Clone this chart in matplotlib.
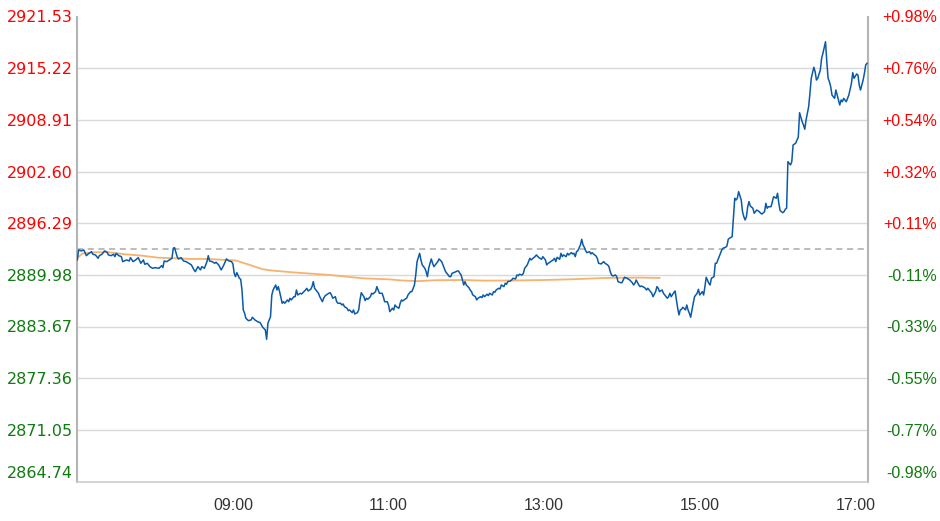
#!/usr/bin/env python3
# -*- coding: utf-8 -*-

"""
Intraday index chart: price line, average line, previous close and
price / percent axes.
"""

import matplotlib

matplotlib.use("Agg")

import matplotlib.pyplot as plt


PREV_CLOSE = 2893.135

LEFT_TICKS = [2864.74, 2871.05, 2877.36, 2883.67, 2889.98,
              2896.29, 2902.60, 2908.91, 2915.22, 2921.53]
RIGHT_LABELS = ["-0.98%", "-0.77%", "-0.55%", "-0.33%", "-0.11%",
                "+0.11%", "+0.32%", "+0.54%", "+0.76%", "+0.98%"]

# minutes since 07:00
X_RANGE = (0, 610)
X_TICKS = [120, 240, 360, 480, 600]
X_LABELS = ["09:00", "11:00", "13:00", "15:00", "17:00"]

minutes = [
    0, 1, 3, 5, 7, 9, 11, 12, 14, 16, 17, 19, 21, 23, 24, 26, 28, 29, 30, 32,
    34, 35, 38, 40, 41, 43, 45, 47, 49, 51, 52, 54, 56, 58, 60, 63, 65, 66, 67, 69,
    71, 73, 74, 75, 77, 78, 80, 82, 84, 86, 88, 90, 91, 93, 95, 96, 98, 100, 101, 102,
    104, 106, 107, 109, 111, 113, 115, 117, 119,
    120, 121, 122, 123, 125, 126, 127, 128, 129, 130, 132, 134, 135, 137, 139, 141,
    142, 143, 145, 146, 147, 149, 150, 151, 153, 154, 155, 156, 158, 159, 160, 162,
    163, 164, 165, 167, 168, 169, 170, 172, 173, 174, 176, 177, 178, 180, 181, 182,
    183, 185, 186, 187, 189, 190, 191, 192, 194, 195, 196, 197, 199, 200, 201, 203,
    204, 205, 206, 208, 209, 210, 212, 213, 214, 216, 217, 218, 219, 221, 222, 223,
    224, 226, 227, 228, 230, 231, 232, 233, 235, 236, 237, 239, 240, 241,
    243, 244, 245, 246, 248, 249, 250, 251, 253, 254, 255, 257, 258, 259, 260, 261,
    262, 264, 265, 266, 268, 269, 270, 271, 272, 273, 274, 275, 277, 278, 279, 281,
    282, 283, 284, 286, 287, 288, 289, 291, 293, 294, 295, 296, 298, 299, 300, 302,
    303, 304, 305, 307, 308, 309, 311, 312, 313, 314, 316, 317, 318, 320, 321, 322,
    323, 325, 326, 327, 329, 330, 331, 332, 334, 335, 336, 338, 339, 340, 341, 343,
    344, 345, 347, 348, 349, 350, 352, 353, 354, 356,
    357, 358, 359, 361, 362, 363, 364, 365, 367, 368, 369, 370, 372, 373, 374, 375,
    377, 378, 379, 381, 382, 383, 384, 385, 386, 388, 389, 390, 391, 392, 393, 395,
    396, 397, 398, 400, 401, 402, 404, 405, 406, 407, 409, 410, 411, 412, 413, 415,
    416, 417, 419, 420, 421, 422, 424, 425, 426, 428, 429, 430, 431, 433, 434, 435,
    437, 438, 439, 440, 442, 443, 444, 446, 447, 448, 449, 451, 452, 453, 455, 456,
    457, 458, 460, 461, 462, 463, 464, 465, 466, 467, 469, 470, 471, 472, 473, 474,
    475, 476, 478, 479, 480,
    482, 483, 484, 485, 487, 488, 489, 491, 492, 493, 494, 496, 497, 498, 500, 501,
    502, 503, 505, 506, 507, 508, 509, 510, 512, 513, 514, 515, 516, 517, 518, 519,
    521, 522, 523, 524, 526, 527, 528, 530, 531, 532, 533, 535, 536, 537, 539, 540,
    541, 542, 544, 545, 546, 547, 548, 550, 551, 552, 554, 555, 556, 557, 559, 560,
    561, 562, 564, 565, 566, 568, 569, 570, 571, 573, 574, 575, 577, 578, 579, 580,
    581, 582, 584, 585, 586, 588, 589, 590, 591, 593, 594, 595, 597, 598, 599, 601,
    602, 603, 604, 606, 607, 608, 609,
]

prices = [
    2891.80, 2893.02, 2892.90, 2893.02, 2892.32, 2892.61, 2892.81, 2892.49, 2892.41, 2892.00,
    2892.32, 2892.49, 2892.90, 2892.74, 2892.41, 2892.32, 2892.49, 2892.20, 2892.61, 2892.32,
    2892.20, 2891.59, 2891.80, 2891.67, 2892.08, 2891.59, 2891.80, 2892.08, 2891.39, 2891.80,
    2891.27, 2891.39, 2890.98, 2890.78, 2890.86, 2890.78, 2891.10, 2890.86, 2891.67, 2891.59,
    2891.80, 2892.00, 2893.23, 2893.30, 2892.20, 2891.92, 2892.08, 2891.67, 2891.59, 2891.39,
    2891.19, 2890.58, 2890.37, 2890.98, 2890.58, 2890.98, 2890.78, 2891.59, 2892.32, 2891.67,
    2891.59, 2891.39, 2891.52, 2891.19, 2890.58, 2891.19, 2891.92, 2891.67, 2891.59,
    2891.31, 2890.17, 2889.76, 2890.25, 2889.56, 2889.44, 2888.13, 2885.69, 2885.29, 2884.68,
    2884.38, 2884.47, 2884.80, 2884.47, 2884.26, 2884.14, 2883.86, 2883.58, 2883.25, 2882.11,
    2884.07, 2884.87, 2887.52, 2888.13, 2888.74, 2888.13, 2888.54, 2887.93, 2886.51, 2886.70,
    2886.51, 2886.91, 2886.70, 2887.12, 2886.91, 2887.31, 2887.31, 2888.13, 2887.52, 2887.73,
    2887.64, 2887.80, 2888.13, 2888.34, 2888.01, 2888.21, 2888.54, 2889.15, 2888.34, 2887.93,
    2887.73, 2887.31, 2886.70, 2887.12, 2887.40, 2887.52, 2887.73, 2887.80, 2887.52, 2887.12,
    2887.31, 2886.70, 2886.51, 2886.51, 2886.30, 2886.42, 2886.09, 2885.90, 2885.60, 2885.69,
    2885.36, 2885.69, 2885.20, 2885.36, 2885.69, 2886.91, 2887.80, 2887.31, 2886.83, 2887.12,
    2886.99, 2887.31, 2887.73, 2887.64, 2887.93, 2888.54, 2888.13, 2887.73, 2887.73, 2887.31,
    2886.70, 2886.70, 2886.30, 2885.48,
    2885.90, 2885.69, 2886.30, 2886.09, 2885.90, 2886.51, 2886.91, 2886.79, 2887.03, 2887.12,
    2887.52, 2887.93, 2887.93, 2888.34, 2888.74, 2889.96, 2891.59, 2892.61, 2891.80, 2891.19,
    2890.78, 2890.37, 2889.76, 2890.78, 2891.39, 2891.92, 2891.39, 2890.98, 2891.39, 2891.59,
    2891.92, 2891.59, 2891.19, 2890.78, 2890.37, 2889.96, 2889.76, 2889.76, 2890.17, 2890.29,
    2890.45, 2890.45, 2890.17, 2889.96, 2888.74, 2889.15, 2888.74, 2888.41, 2888.13, 2887.93,
    2887.52, 2887.31, 2886.91, 2887.12, 2887.31, 2887.19, 2887.52, 2887.31, 2887.61, 2887.44,
    2887.73, 2887.52, 2887.93, 2887.85, 2888.13, 2888.34, 2888.26, 2888.74, 2888.54, 2888.95,
    2888.83, 2889.15, 2889.23, 2889.35, 2889.56, 2889.48, 2889.96, 2889.88, 2890.05, 2889.96,
    2890.17, 2890.78, 2891.19, 2891.59, 2892.00, 2891.80, 2892.08, 2892.20, 2892.41, 2892.08,
    2891.98, 2891.88, 2892.20, 2891.80, 2891.19, 2891.39, 2891.47, 2891.59, 2891.80, 2892.00,
    2891.59, 2892.12, 2891.88, 2892.61, 2892.20, 2892.41, 2892.20, 2892.61, 2892.41, 2892.69,
    2892.53, 2892.61, 2892.20, 2892.81, 2892.93, 2893.63, 2894.32, 2893.63, 2893.35, 2892.93,
    2892.69, 2892.81, 2892.53, 2892.69, 2892.53, 2892.29, 2892.00, 2891.39, 2891.31, 2891.47,
    2891.59, 2891.39, 2891.19, 2890.98, 2890.37, 2889.96, 2889.84, 2889.96, 2889.76, 2889.15,
    2889.02, 2889.02, 2889.35, 2889.68, 2889.56, 2889.44, 2889.35, 2889.02, 2888.74, 2888.95,
    2889.35, 2888.74, 2888.54, 2888.62, 2888.46, 2888.34, 2888.13, 2888.34, 2887.93, 2887.73,
    2887.31, 2887.93, 2888.54, 2888.34, 2887.93, 2888.13, 2887.73, 2887.52, 2887.12, 2887.31,
    2887.73, 2887.31, 2887.80, 2888.01, 2886.91, 2885.90, 2885.08, 2885.69, 2885.78, 2886.02,
    2885.69, 2886.30, 2885.69, 2885.29, 2884.80, 2885.69, 2886.51, 2887.31, 2887.73, 2888.21,
    2887.52,
    2887.93, 2887.52, 2888.54, 2889.68, 2888.95, 2888.74, 2889.56, 2889.76, 2891.39, 2891.39,
    2891.80, 2892.61, 2893.02, 2893.23, 2893.35, 2893.51, 2894.32, 2894.45, 2894.64, 2897.08,
    2899.33, 2899.12, 2899.33, 2900.14, 2899.12, 2897.69, 2897.08, 2896.68, 2897.08, 2898.30,
    2898.92, 2898.39, 2898.11, 2897.50, 2897.69, 2897.90, 2897.69, 2897.50, 2897.41, 2897.69,
    2898.72, 2898.11, 2898.30, 2898.30, 2898.92, 2899.53, 2899.33, 2899.94, 2898.72, 2897.82,
    2897.57, 2897.69, 2897.99, 2898.11, 2903.80, 2903.40, 2903.80, 2905.84, 2906.05, 2906.45,
    2906.78, 2909.78, 2908.68, 2908.28, 2907.76, 2908.89, 2910.51, 2912.15, 2913.98, 2915.33,
    2914.79, 2913.77, 2913.98, 2914.99, 2916.42, 2917.03, 2918.45, 2916.01, 2913.98, 2913.57,
    2912.96, 2911.94, 2911.54, 2912.55, 2911.94, 2910.72, 2911.33, 2911.12, 2911.54, 2911.12,
    2911.54, 2911.94, 2913.37, 2914.67, 2913.98, 2914.51, 2914.39, 2913.16, 2912.55, 2913.77,
    2914.59, 2915.61, 2915.81,
]

avg_minutes = [0, 4, 14, 24, 37, 50, 62, 75, 88, 101, 114, 122, 125, 133, 143, 151,
               169, 195, 220, 241, 250, 263, 276, 297, 314, 335, 361, 382, 408, 434, 449]
avg_prices = [2892.04, 2892.59, 2892.74, 2892.74, 2892.49, 2892.32, 2892.08, 2892.00,
              2891.92, 2891.92, 2891.80, 2891.74, 2891.59, 2891.19, 2890.66, 2890.49,
              2890.25, 2889.96, 2889.56, 2889.42, 2889.29, 2889.21, 2889.32, 2889.35,
              2889.27, 2889.29, 2889.35, 2889.44, 2889.60, 2889.64, 2889.60]

RED = "#ff0000"
GREEN = "#117a11"


def main() -> None:
    fig = plt.figure(figsize=(9.4, 5.21), dpi=100)
    ax = fig.add_axes([77.3 / 940, 1 - 481.5 / 521, 791.0 / 940, 465.0 / 521])

    ax.set_xlim(*X_RANGE)
    ax.set_ylim(LEFT_TICKS[0], LEFT_TICKS[-1])

    ax.set_yticks(LEFT_TICKS)
    ax.set_yticklabels([f"{v:.2f}" for v in LEFT_TICKS], family="DejaVu Sans")
    ax.set_xticks(X_TICKS)
    ax.set_xticklabels(X_LABELS, family="Liberation Sans")

    ax.grid(axis="y", color="#d9d9d9", linewidth=1.0)
    ax.yaxis.get_gridlines()[-1].set_visible(False)
    ax.set_axisbelow(True)

    ax.axhline(PREV_CLOSE, color="#aaaaaa", linestyle=(0, (4, 3)), linewidth=1.1, zorder=2)
    ax.plot(avg_minutes, avg_prices, color="#f5b36e", linewidth=1.3, zorder=3)
    ax.plot(minutes, prices, color="#0b5aa8", linewidth=1.1, zorder=4)

    ax.tick_params(axis="y", length=0, pad=3.3, labelsize=11.5)
    ax.tick_params(axis="x", length=0, pad=12, labelsize=11.5, labelcolor="#333333")
    for label, value in zip(ax.get_yticklabels(), LEFT_TICKS):
        label.set_color(RED if value > PREV_CLOSE else GREEN)
    ax.get_yticklabels()[0].set_verticalalignment("bottom")

    ax.spines["top"].set_visible(False)
    for side in ("left", "right"):
        ax.spines[side].set_color("#b4b4b4")
        ax.spines[side].set_linewidth(1.5)
    ax.spines["bottom"].set_color("#cccccc")
    ax.spines["bottom"].set_linewidth(1.2)

    ax2 = ax.twinx()
    ax2.set_ylim(LEFT_TICKS[0], LEFT_TICKS[-1])
    ax2.set_yticks(LEFT_TICKS)
    ax2.set_yticklabels(RIGHT_LABELS, family="Liberation Sans")
    ax2.tick_params(axis="y", length=0, pad=49.5, labelsize=11.5)
    for label, value in zip(ax2.get_yticklabels(), LEFT_TICKS):
        label.set_color(RED if value > PREV_CLOSE else GREEN)
        label.set_horizontalalignment("right")
    ax2.get_yticklabels()[0].set_verticalalignment("bottom")
    for spine in ax2.spines.values():
        spine.set_visible(False)

    fig.savefig("out.png", dpi=100)
    plt.close(fig)


if __name__ == "__main__":
    main()
